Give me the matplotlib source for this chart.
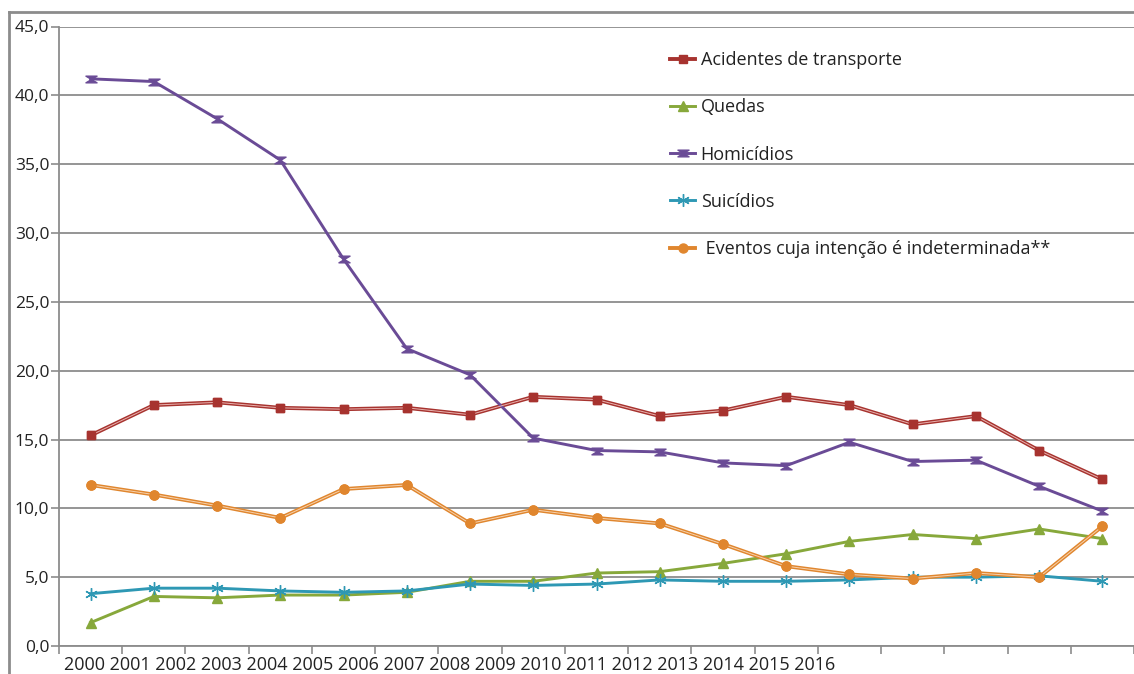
import numpy as np
import matplotlib.pyplot as plt
from matplotlib.path import Path
from matplotlib.lines import Line2D

plt.rcParams['font.family'] = ['Open Sans', 'DejaVu Sans']

# Data
years = [str(y) for y in range(2000, 2017)]
transporte = [15.3, 17.5, 17.7, 17.3, 17.2, 17.3, 16.8, 18.1, 17.9, 16.7,
              17.1, 18.1, 17.5, 16.1, 16.7, 14.2, 12.1]
quedas = [1.7, 3.6, 3.5, 3.7, 3.7, 3.9, 4.7, 4.7, 5.3, 5.4,
          6.0, 6.7, 7.6, 8.1, 7.8, 8.5, 7.8]
homicidios = [41.2, 41.0, 38.3, 35.3, 28.1, 21.6, 19.7, 15.1, 14.2, 14.1,
              13.3, 13.1, 14.8, 13.4, 13.5, 11.6, 9.8]
suicidios = [3.8, 4.2, 4.2, 4.0, 3.9, 4.0, 4.5, 4.4, 4.5, 4.8,
             4.7, 4.7, 4.8, 5.0, 5.0, 5.1, 4.7]
eventos = [11.7, 11.0, 10.2, 9.3, 11.4, 11.7, 8.9, 9.9, 9.3, 8.9,
           7.4, 5.8, 5.2, 4.9, 5.3, 5.0, 8.7]

labels = ['Acidentes de transporte', 'Quedas', 'Homicídios', 'Suicídios',
          ' Eventos cuja intenção é indeterminada**']

# hourglass marker like the original
hourglass = Path([(-1, 0.6), (1, 0.6), (-1, -0.6), (1, -0.6), (-1, 0.6)],
                 [Path.MOVETO, Path.LINETO, Path.LINETO, Path.LINETO, Path.CLOSEPOLY])

series = [
    (transporte, '#A7332F', '#e9b3b0', 's', 6, True),
    (quedas, '#87A83B', None, '^', 7, False),
    (homicidios, '#6A4B96', None, hourglass, 8, False),
    (suicidios, '#2E98B4', None, (6, 2, 0), 9, False),
    (eventos, '#E0862E', '#f6d2ae', 'o', 6.5, True),
]

W, H = 1134, 674
fig = plt.figure(figsize=(W / 100, H / 100), dpi=100)
ax = fig.add_axes([59 / W, 28 / H, (W - 59) / W, (646 - 26.5) / H])

x = np.arange(len(years))
handles = []
for (vals, col, light, mk, ms, double) in series:
    h, = ax.plot(x, vals, color=col, lw=2.1, marker=mk, markersize=ms,
                 markeredgecolor=col, markerfacecolor=col, zorder=3,
                 solid_joinstyle='round')
    if double:
        h.set_linewidth(2.8)
        ax.plot(x, vals, color=light, lw=0.7, zorder=3.1)
        ax.plot(x, vals, ls='none', marker=mk, markersize=ms, color=col, zorder=3.2)
    handles.append(h)

ax.set_xlim(-0.5, len(years) - 0.5)
ax.set_ylim(0, 45)
ax.set_yticks(np.arange(0, 46, 5))
ax.set_yticklabels([f'{v:.1f}'.replace('.', ',') for v in np.arange(0, 46, 5)],
                   fontsize=12.5, color='#222222')
ax.set_xticks(np.arange(-0.5, len(years), 1))
ax.set_xticklabels([])
ax.tick_params(axis='y', length=6, width=1.2, color='#8c8c8c', pad=1)
ax.tick_params(axis='x', length=6, width=1.2, color='#8c8c8c')
ax.grid(axis='y', color='#8c8c8c', lw=1.3)
ax.set_axisbelow(True)
for s in ['top', 'right']:
    ax.spines[s].set_visible(False)
for s in ['left', 'bottom']:
    ax.spines[s].set_color('#8c8c8c')
    ax.spines[s].set_linewidth(1.3)

# year labels written as one run of text, as in the original
fig.text(64 / W, 1 - 665 / H, ' '.join(years), fontsize=13.0,
         color='#222222', va='center', ha='left')

# outer frame
fig.add_artist(Line2D([9 / W, 9 / W], [0, 1 - 12 / H], transform=fig.transFigure,
                      color='#8c8c8c', lw=2))
fig.add_artist(Line2D([9 / W, 1], [1 - 12 / H, 1 - 12 / H], transform=fig.transFigure,
                      color='#8c8c8c', lw=2))

fig.legend(handles, labels, loc='upper left',
           bbox_to_anchor=(661 / W, 1 - 42 / H), frameon=False,
           fontsize=13, labelspacing=1.62, handlelength=1.4,
           handletextpad=0.3, borderpad=0, labelcolor='#222222')

fig.savefig('out.png', dpi=100)
